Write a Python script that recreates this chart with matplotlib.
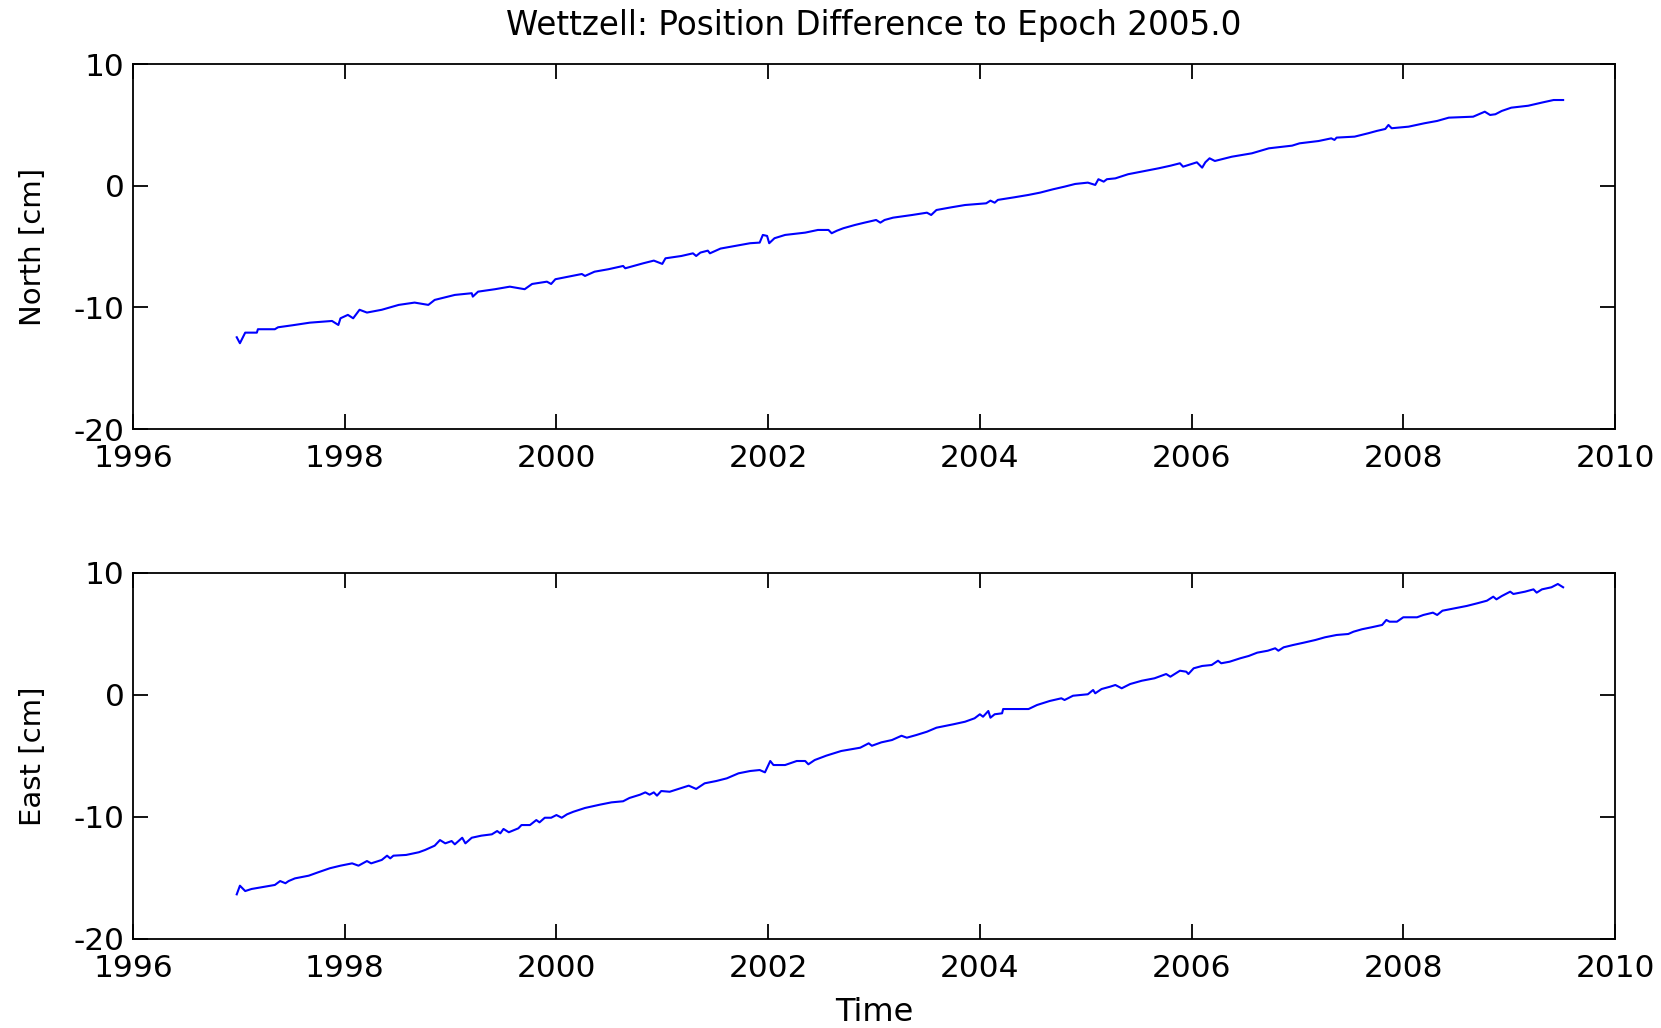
#!/usr/bin/python
# Wettzell station: north and east position difference to epoch 2005.0

import matplotlib
matplotlib.use('Agg')
import matplotlib.pyplot as plt

# North component (decimal year, cm)
NORTH_T = [1996.98, 1997.01, 1997.06, 1997.17, 1997.18, 1997.34, 1997.37, 1997.51,
           1997.67, 1997.88, 1997.94, 1997.96, 1998.03, 1998.08, 1998.14, 1998.21,
           1998.35, 1998.51, 1998.66, 1998.79, 1998.85, 1999.04, 1999.20, 1999.21,
           1999.26, 1999.42, 1999.56, 1999.70, 1999.77, 1999.91, 1999.95, 1999.99,
           2000.11, 2000.24, 2000.27, 2000.36, 2000.49, 2000.63, 2000.65, 2000.73,
           2000.82, 2000.92, 2001.00, 2001.03,
           2001.18, 2001.29, 2001.32, 2001.36, 2001.43, 2001.45, 2001.55, 2001.69,
           2001.83, 2001.92, 2001.95, 2001.99, 2002.01, 2002.06, 2002.16, 2002.35,
           2002.47, 2002.57, 2002.60, 2002.65, 2002.71, 2002.82, 2002.91, 2003.02,
           2003.06, 2003.10, 2003.18, 2003.36, 2003.50, 2003.54, 2003.59, 2003.73,
           2003.86, 2004.06, 2004.10, 2004.14, 2004.17, 2004.33, 2004.46, 2004.57,
           2004.69, 2004.80, 2004.90, 2005.02, 2005.09, 2005.12, 2005.17, 2005.20,
           2005.28, 2005.40, 2005.56, 2005.69, 2005.80, 2005.89, 2005.92, 2006.05,
           2006.10, 2006.13, 2006.17, 2006.22, 2006.38, 2006.57, 2006.73, 2006.95,
           2007.02, 2007.20, 2007.32, 2007.35, 2007.37, 2007.54, 2007.67, 2007.75,
           2007.83, 2007.86, 2007.89, 2008.05, 2008.20, 2008.32, 2008.43, 2008.66,
           2008.77, 2008.82, 2008.87, 2008.93, 2009.02, 2009.18, 2009.32, 2009.42,
           2009.51]
NORTH_CM = [-12.46, -12.95, -12.08, -12.08, -11.80, -11.80, -11.64, -11.47,
            -11.26, -11.12, -11.45, -10.90, -10.62, -10.90, -10.20, -10.43,
            -10.20, -9.80, -9.61, -9.80, -9.39, -8.98, -8.84, -9.12,
            -8.71, -8.51, -8.30, -8.51, -8.08, -7.89, -8.08, -7.69,
            -7.48, -7.26, -7.42, -7.07, -6.87, -6.60, -6.79, -6.60,
            -6.38, -6.16, -6.43, -5.97,
            -5.78, -5.56, -5.78, -5.50, -5.34, -5.56, -5.17, -4.95,
            -4.73, -4.68, -4.05, -4.13, -4.73, -4.32, -4.05, -3.86,
            -3.64, -3.64, -3.91, -3.70, -3.50, -3.23, -3.04, -2.82,
            -3.04, -2.82, -2.63, -2.41, -2.22, -2.41, -2.00, -1.78,
            -1.59, -1.45, -1.23, -1.40, -1.17, -0.95, -0.76, -0.57,
            -0.30, -0.08, 0.14, 0.25, 0.06, 0.53, 0.33, 0.53,
            0.60, 0.94, 1.21, 1.43, 1.64, 1.84, 1.56, 1.92,
            1.48, 1.92, 2.25, 2.03, 2.38, 2.66, 3.07, 3.29,
            3.48, 3.67, 3.89, 3.76, 3.95, 4.03, 4.31, 4.50,
            4.66, 4.99, 4.72, 4.85, 5.13, 5.32, 5.59, 5.67,
            6.08, 5.81, 5.87, 6.14, 6.41, 6.57, 6.85, 7.04,
            7.04]

# East component (decimal year, cm)
EAST_T = [1996.98, 1997.01, 1997.06, 1997.12, 1997.25, 1997.34, 1997.39, 1997.44,
          1997.47, 1997.53, 1997.66, 1997.75, 1997.86, 1997.96, 1998.07, 1998.13,
          1998.21, 1998.25, 1998.35, 1998.40, 1998.43, 1998.46, 1998.58, 1998.70,
          1998.76, 1998.85, 1998.90, 1998.95, 1999.01, 1999.04, 1999.11, 1999.14,
          1999.20, 1999.29, 1999.39, 1999.44, 1999.47, 1999.50, 1999.55, 1999.64,
          1999.67, 1999.75, 1999.81, 1999.84, 1999.89, 1999.95, 2000.00, 2000.05,
          2000.10, 2000.16, 2000.27, 2000.41, 2000.52, 2000.63, 2000.69, 2000.79,
          2000.84, 2000.88, 2000.92, 2000.95, 2000.99,
          2001.07, 2001.17, 2001.25, 2001.32, 2001.40, 2001.51, 2001.61, 2001.72,
          2001.83, 2001.92, 2001.97, 2002.02, 2002.05, 2002.16, 2002.27, 2002.35,
          2002.38, 2002.44, 2002.55, 2002.69, 2002.87, 2002.95, 2002.98, 2003.07,
          2003.17, 2003.26, 2003.31, 2003.40, 2003.50, 2003.59, 2003.75, 2003.86,
          2003.95, 2004.00, 2004.03, 2004.08, 2004.10, 2004.14, 2004.21, 2004.22,
          2004.32, 2004.46, 2004.54, 2004.66, 2004.77, 2004.80, 2004.88, 2005.02,
          2005.07, 2005.09, 2005.15, 2005.23,
          2005.28, 2005.34, 2005.42, 2005.53, 2005.65, 2005.76, 2005.80, 2005.89,
          2005.95, 2005.97, 2006.02, 2006.10, 2006.19, 2006.25, 2006.28, 2006.36,
          2006.46, 2006.54, 2006.62, 2006.72, 2006.79, 2006.82, 2006.87, 2006.96,
          2007.06, 2007.17, 2007.26, 2007.37, 2007.48, 2007.53, 2007.61, 2007.70,
          2007.80, 2007.84, 2007.87, 2007.94, 2008.00, 2008.13, 2008.19, 2008.28,
          2008.32, 2008.37, 2008.49, 2008.60, 2008.70, 2008.79, 2008.85, 2008.88,
          2008.93, 2009.01, 2009.04, 2009.15, 2009.23, 2009.26, 2009.31, 2009.40,
          2009.46, 2009.51]
EAST_CM = [-16.34, -15.63, -16.07, -15.90, -15.71, -15.57, -15.25, -15.43,
           -15.25, -15.03, -14.81, -14.53, -14.20, -13.99, -13.80, -13.99,
           -13.61, -13.80, -13.52, -13.17, -13.39, -13.17, -13.11, -12.89,
           -12.70, -12.35, -11.89, -12.16, -11.97, -12.24, -11.70, -12.16,
           -11.70, -11.53, -11.42, -11.15, -11.34, -10.98, -11.25, -10.93,
           -10.66, -10.66, -10.25, -10.44, -10.06, -10.06, -9.84, -10.06,
           -9.78, -9.57, -9.26, -8.99, -8.80, -8.71, -8.44, -8.17,
           -7.98, -8.17, -7.98, -8.25, -7.87,
           -7.93, -7.65, -7.43, -7.70, -7.24, -7.05, -6.83, -6.42,
           -6.23, -6.15, -6.34, -5.41, -5.74, -5.74, -5.41, -5.41,
           -5.68, -5.33, -4.97, -4.59, -4.32, -3.96, -4.16, -3.88,
           -3.69, -3.34, -3.50, -3.28, -3.01, -2.68, -2.40, -2.19,
           -1.91, -1.58, -1.78, -1.31, -1.86, -1.58, -1.50, -1.15,
           -1.15, -1.15, -0.82, -0.49, -0.27, -0.41, -0.06, 0.06,
           0.41, 0.14, 0.49, 0.68,
           0.82, 0.55, 0.90, 1.17, 1.37, 1.72, 1.50, 1.99,
           1.91, 1.72, 2.19, 2.38, 2.46, 2.81, 2.60, 2.73,
           3.01, 3.20, 3.47, 3.63, 3.83, 3.63, 3.91, 4.10,
           4.29, 4.51, 4.73, 4.92, 5.00, 5.19, 5.39, 5.55,
           5.74, 6.15, 6.01, 6.01, 6.37, 6.37, 6.56, 6.75,
           6.56, 6.91, 7.11, 7.30, 7.52, 7.73, 8.06, 7.84,
           8.11, 8.47, 8.28, 8.47, 8.66, 8.39, 8.66, 8.83,
           9.10, 8.83]

X_TICKS = [1996, 1998, 2000, 2002, 2004, 2006, 2008, 2010]
Y_TICKS = [-20, -10, 0, 10]

plt.rcParams['font.family'] = 'DejaVu Sans'
plt.rcParams['axes.unicode_minus'] = False

W, H = 1661.0, 1028.0


def setupAxes(ax, ylabel):
  ax.set_xlim(1996, 2010)
  ax.set_ylim(-20, 10)
  ax.set_xticks(X_TICKS)
  ax.set_yticks(Y_TICKS)
  ax.tick_params(axis='both', direction='in', length=11, width=1.3,
                 top=True, right=True, labelsize=22.5, color='black')
  ax.tick_params(axis='x', pad=11)
  ax.tick_params(axis='y', pad=6)
  for s in ax.spines.values():
    s.set_linewidth(1.3)
  ax.set_ylabel(ylabel, fontsize=21)
  ax.yaxis.set_label_coords(-0.058, 0.5)


fig = plt.figure(figsize=(W / 100, H / 100), dpi=100)

axN = fig.add_axes([133 / W, 1 - 429 / H, 1482 / W, 365 / H])
axN.plot(NORTH_T, NORTH_CM, color='#0000ff', linewidth=1.5)
setupAxes(axN, 'North [cm]')
axN.set_title('Wettzell: Position Difference to Epoch 2005.0', fontsize=23.5, pad=21)

axE = fig.add_axes([133 / W, 1 - 939 / H, 1482 / W, 366 / H])
axE.plot(EAST_T, EAST_CM, color='#0000ff', linewidth=1.5)
setupAxes(axE, 'East [cm]')
axE.set_xlabel('Time', fontsize=23)
axE.xaxis.set_label_coords(0.5, -0.158)

plt.savefig('out.png', dpi=100)
